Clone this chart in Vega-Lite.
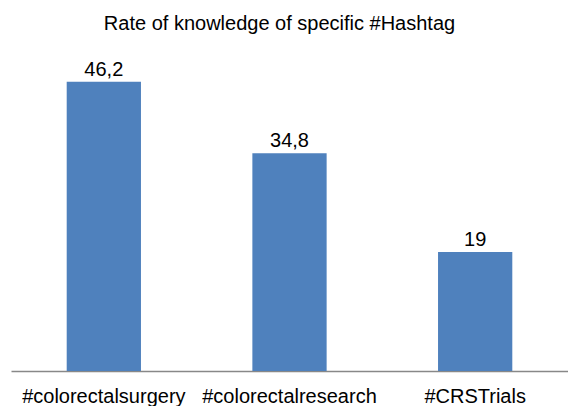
{
  "$schema": "https://vega.github.io/schema/vega-lite/v6.json",
  "autosize": "none",
  "padding": {"left": 11, "top": 58, "right": 0, "bottom": 35},
  "width": 557,
  "height": 313,
  "background": "white",
  "config": {
    "view": {"stroke": null},
    "font": "Liberation Sans",
    "locale": {"number": {"decimal": ",", "thousands": ".", "grouping": [3], "currency": ["", "€"]}}
  },
  "title": {
    "text": "Rate of knowledge of specific #Hashtag",
    "fontSize": 20,
    "fontWeight": "normal",
    "color": "black",
    "font": "Liberation Sans",
    "offset": 24,
    "dx": -10
  },
  "data": {
    "values": [
      {"hashtag": "#colorectalsurgery", "rate": 46.2},
      {"hashtag": "#colorectalresearch", "rate": 34.8},
      {"hashtag": "#CRSTrials", "rate": 19}
    ]
  },
  "encoding": {
    "x": {
      "field": "hashtag",
      "type": "nominal",
      "sort": null,
      "scale": {"paddingInner": 0.6, "paddingOuter": 0.3},
      "axis": {
        "title": null,
        "labelAngle": 0,
        "labelFontSize": 20,
        "labelColor": "black",
        "labelBaseline": "alphabetic",
        "labelPadding": 31,
        "labelOverlap": false,
        "labelBound": false,
        "labelLimit": 0,
        "ticks": false,
        "domainColor": "#888888",
        "domainWidth": 1.5,
        "grid": false
      }
    },
    "y": {
      "field": "rate",
      "type": "quantitative",
      "scale": {"domain": [0, 50]},
      "axis": null
    }
  },
  "layer": [
    {"mark": {"type": "bar", "color": "#4F81BD"}},
    {
      "mark": {"type": "text", "baseline": "alphabetic", "dy": -6, "fontSize": 20, "color": "black"},
      "encoding": {"text": {"field": "rate", "type": "quantitative", "format": ".1~f"}}
    }
  ]
}
